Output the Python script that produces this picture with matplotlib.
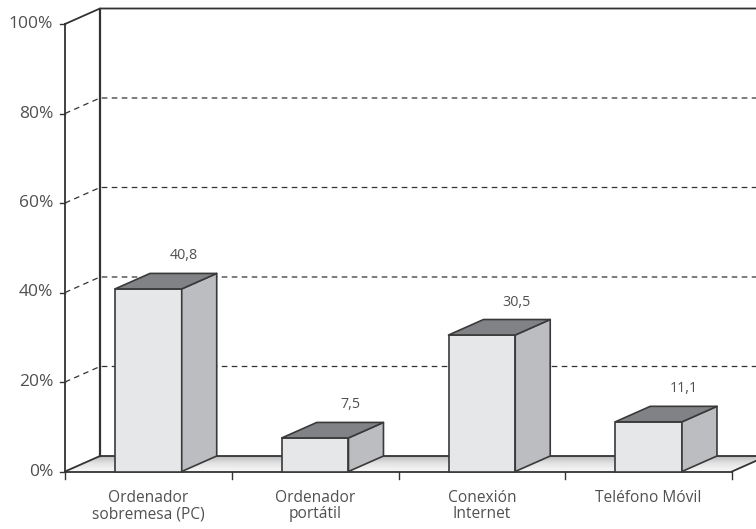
import numpy as np
import matplotlib
matplotlib.use("Agg")
import matplotlib.pyplot as plt
from matplotlib.patches import Polygon
from matplotlib.colors import LinearSegmentedColormap

plt.rcParams['font.family'] = ['Open Sans', 'DejaVu Sans']

categories = ["Ordenador\nsobremesa (PC)", "Ordenador\nportátil", "Conexión\nInternet", "Teléfono Móvil"]
values = [40.8, 7.5, 30.5, 11.1]
value_labels = ["40,8", "7,5", "30,5", "11,1"]
y_ticks = [0, 20, 40, 60, 80, 100]
grid_levels = [20, 40, 60, 80]

W, H = 756, 529
X0, X1 = 65, 732
Y0, Y100 = 471.5, 24
cat_w = (X1 - X0) / 4
pct = (Y0 - Y100) / 100
DX = 35 / cat_w
DY = 15.5 / pct
BAR = 0.4
DARK = '#333333'
TXT = '#505050'

fig = plt.figure(figsize=(W / 100, H / 100), dpi=100, facecolor='white')
ax = fig.add_axes([0, 0, 1, 1])
ax.axis('off')
n = len(categories)
xmax = (W - X0) / cat_w

# floor
cmap = LinearSegmentedColormap.from_list('floor', ['#f6f6f6', '#e2e2e3', '#b4b5b6'])
floor = Polygon([(0, 0), (DX, DY), (xmax, DY), (xmax, (xmax - n) / DX * DY), (n, 0)],
                closed=True, fc='none', ec='none')
ax.add_patch(floor)
im = ax.imshow(np.linspace(0, 1, 64)[:, None], extent=(0, xmax, 0, DY), origin='lower',
               cmap=cmap, aspect='auto', zorder=1)
im.set_clip_path(floor)
ax.set_xlim(-X0 / cat_w, (W - X0) / cat_w)
ax.set_ylim(-(H - Y0) / pct, Y0 / pct)

# gridlines
for g in grid_levels:
    ax.plot([0, DX, xmax], [g, g + DY, g + DY], color=DARK, lw=0.9,
            dashes=(4.5, 3.5), zorder=2)

# frame
ax.plot([0, 0], [0, 100], color=DARK, lw=1.3, zorder=3)
ax.plot([0, DX, xmax], [100, 100 + DY, 100 + DY], color=DARK, lw=1.3, zorder=3)
ax.plot([DX, DX], [DY, 100 + DY], color=DARK, lw=1.6, zorder=3)
ax.plot([DX, xmax], [DY, DY], color=DARK, lw=1.3, zorder=3)
ax.plot([0, DX], [0, DY], color=DARK, lw=1.3, zorder=3)
ax.plot([0, n], [0, 0], color=DARK, lw=1.3, zorder=3)
ax.plot([n, xmax], [0, (xmax - n) / DX * DY], color=DARK, lw=1.3, zorder=3)

# ticks and labels
for t in y_ticks:
    ax.plot([-5 / cat_w, 0], [t, t], color=DARK, lw=1.0, zorder=3)
    ax.text(-12 / cat_w, t, f"{t}%", ha='right', va='center', fontsize=12.5, color=TXT)
for i in range(n + 1):
    ax.plot([i, i], [0, -7 / pct], color=DARK, lw=1.0, zorder=3)

# bars
for i, (v, cat, lab) in enumerate(zip(values, categories, value_labels)):
    l = i + 0.5 - BAR / 2
    r = l + BAR
    kw = dict(closed=True, ec='#3a3a3a', lw=1.2, joinstyle='round', zorder=5)
    ax.add_patch(Polygon([(l, 0), (r, 0), (r, v), (l, v)], fc='#e6e7e8', **kw))
    ax.add_patch(Polygon([(r, 0), (r + DX, DY), (r + DX, v + DY), (r, v)], fc='#bcbdc0', **kw))
    ax.add_patch(Polygon([(l, v), (r, v), (r + DX, v + DY), (l + DX, v + DY)], fc='#808285', **kw))
    ax.text(i + 0.5 + DX, v + DY + 3.9, lab, ha='center', va='center',
            fontsize=10.3, color=TXT, zorder=6)
    if '\n' in cat:
        ax.text(i + 0.5, -7.75, cat, ha='center', va='center', fontsize=11.2,
                color=TXT, linespacing=1.05, zorder=6)
    else:
        ax.text(i + 0.5, -5.9, cat, ha='center', va='center', fontsize=11.2,
                color=TXT, zorder=6)

fig.savefig('out.png', dpi=100)
